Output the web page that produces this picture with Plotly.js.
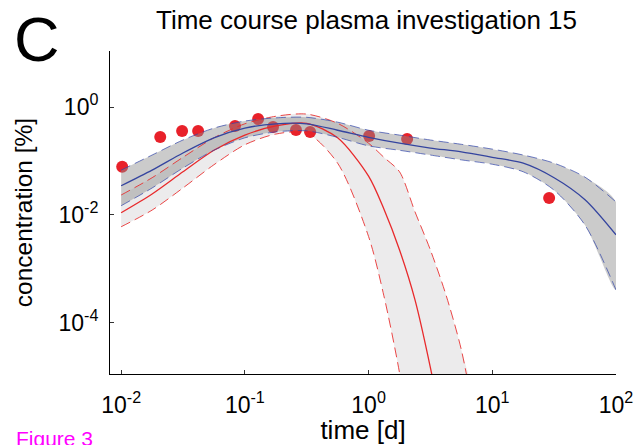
<!DOCTYPE html>
<html>
<head>
<meta charset="utf-8">
<script src="https://cdn.plot.ly/plotly-3.0.1.min.js"></script>
<style>html,body{margin:0;padding:0;background:#fff;}#chart{width:643px;height:445px;}</style>
</head>
<body>
<div id="chart"></div>
<script>
// Observed data points (time [d], concentration [%])
const obsTime = [0.0102, 0.0207, 0.0311, 0.0419, 0.0833, 0.128, 0.169, 0.259, 0.337, 1.01, 2.05, 28.8];
const obsConc = [0.078, 0.278, 0.36, 0.36, 0.445, 0.60, 0.426, 0.375, 0.344, 0.29, 0.255, 0.0206];

// Model 1 (blue) median and band
const blueTime = [0.01, 0.0178, 0.0316, 0.0562, 0.1, 0.178, 0.316, 0.562, 1, 1.78, 3.16, 5.62, 10, 17.8, 31.6, 56.2, 100];
const blueMid  = [0.0347, 0.0676, 0.141, 0.269, 0.407, 0.490, 0.490, 0.372, 0.275, 0.214, 0.174, 0.148, 0.117, 0.0912, 0.049, 0.0191, 0.00427];
const blueHi   = [0.0676, 0.129, 0.245, 0.407, 0.550, 0.631, 0.646, 0.525, 0.372, 0.302, 0.245, 0.204, 0.166, 0.129, 0.0912, 0.0501, 0.0174];
const blueLo   = [0.0148, 0.0316, 0.0741, 0.158, 0.269, 0.347, 0.363, 0.275, 0.191, 0.158, 0.129, 0.105, 0.0871, 0.0631, 0.0288, 0.00646, 0.000407];

// Model 2 (red) median and band
const redTime = [0.01, 0.0178, 0.0316, 0.0562, 0.1, 0.178, 0.316, 0.562, 1, 1.33, 1.78, 2.37, 3.16, 4.22, 5.62, 7.5];
const redMid  = [0.011, 0.0245, 0.0631, 0.158, 0.302, 0.447, 0.501, 0.269, 0.0525, 0.0129, 0.00224, 0.000269, 0.0000148, 5e-7];
const redHi   = [0.0234, 0.049, 0.117, 0.269, 0.49, 0.676, 0.741, 0.50, 0.214, 0.117, 0.063, 0.0115, 0.00224, 0.000331, 0.0000316, 1e-6];
const redLo   = [0.00603, 0.0123, 0.0316, 0.0851, 0.2, 0.316, 0.331, 0.0912, 0.00398, 0.000316, 0.0000117, 1.6e-7];

const xTickVals = [0.01, 0.1, 1, 10, 100];
const xTickText = ['10<sup>-2</sup>', '10<sup>-1</sup>', '10<sup>0</sup>', '10<sup>1</sup>', '10<sup>2</sup>'];
const yTickVals = [0.0001, 0.01, 1];
const yTickText = ['10<sup>-4</sup>', '10<sup>-2</sup>', '10<sup>0</sup>'];

const redHiT = redTime.slice(0, redHi.length);
const redLoT = redTime.slice(0, redLo.length);
const redMidT = redTime.slice(0, redMid.length);

function band(tHi, hi, tLo, lo, color) {
  return {
    x: tHi.concat(tLo.slice().reverse()),
    y: hi.concat(lo.slice().reverse()),
    type: 'scatter', mode: 'lines', fill: 'toself', fillcolor: color,
    line: {width: 0, shape: 'spline', smoothing: 0.8}, hoverinfo: 'skip', showlegend: false
  };
}
function line(t, y, color, dash, width) {
  return {x: t, y: y, type: 'scatter', mode: 'lines',
    line: {color: color, width: width, dash: dash, shape: 'spline', smoothing: 0.8}, showlegend: false};
}

const traces = [
  band(redHiT, redHi, redLoT, redLo, '#ecebec'),
  {x: obsTime, y: obsConc, type: 'scatter', mode: 'markers',
   marker: {color: '#e8212a', size: 12}, showlegend: false},
  band(blueTime, blueHi, blueTime, blueLo, 'rgba(140,140,140,0.45)'),
  line(redHiT, redHi, 'rgba(232,40,40,0.85)', '10px,5px', 1),
  line(redLoT, redLo, 'rgba(232,40,40,0.85)', '10px,5px', 1),
  line(redMidT, redMid, '#e8292b', 'solid', 1.3),
  line(blueTime, blueHi, 'rgba(50,70,170,0.7)', '10px,5px', 1),
  line(blueTime, blueLo, 'rgba(50,70,170,0.7)', '10px,5px', 1),
  line(blueTime, blueMid, '#34449f', 'solid', 1.3)
];

const font = 'Liberation Sans, Arial, Helvetica, sans-serif';
const layout = {
  width: 643, height: 445,
  margin: {l: 110, r: 27, t: 51, b: 71},
  paper_bgcolor: '#fff', plot_bgcolor: '#fff',
  showlegend: false,
  title: {text: 'Time course plasma investigation 15', x: 0.57, xanchor: 'center', y: 0.955, yanchor: 'middle',
          font: {family: font, size: 26, color: '#000'}},
  xaxis: {type: 'log', range: [-2.09, 2], showline: true, linecolor: '#000', linewidth: 1,
          ticks: 'inside', ticklen: 4, tickcolor: '#333', tickvals: xTickVals, ticktext: xTickText,
          showgrid: false, zeroline: false, mirror: false, ticklabelstandoff: 10,
          tickfont: {family: font, size: 23, color: '#000'},
          title: {text: 'time [d]', standoff: 2, font: {family: font, size: 26, color: '#000'}}},
  yaxis: {type: 'log', range: [-4.95, 1.04], showline: true, linecolor: '#000', linewidth: 1,
          ticks: 'inside', ticklen: 4, tickcolor: '#333', tickvals: yTickVals, ticktext: yTickText,
          showgrid: false, zeroline: false, mirror: false, ticklabelstandoff: 6,
          tickfont: {family: font, size: 23, color: '#000'},
          title: {text: 'concentration [%]', standoff: 18, font: {family: font, size: 24.5, color: '#000'}}},
  annotations: [
    {text: 'C', xref: 'paper', yref: 'paper', x: -0.194, y: 1.152, xanchor: 'left', yanchor: 'top',
     showarrow: false, font: {family: font, size: 63, color: '#000'}},
    {text: 'Figure 3', xref: 'paper', yref: 'paper', x: -0.19, y: -0.157, xanchor: 'left', yanchor: 'top',
     showarrow: false, font: {family: font, size: 21, color: '#ff00ff'}}
  ]
};

Plotly.newPlot('chart', traces, layout, {displayModeBar: false, staticPlot: true});
</script>
</body>
</html>
